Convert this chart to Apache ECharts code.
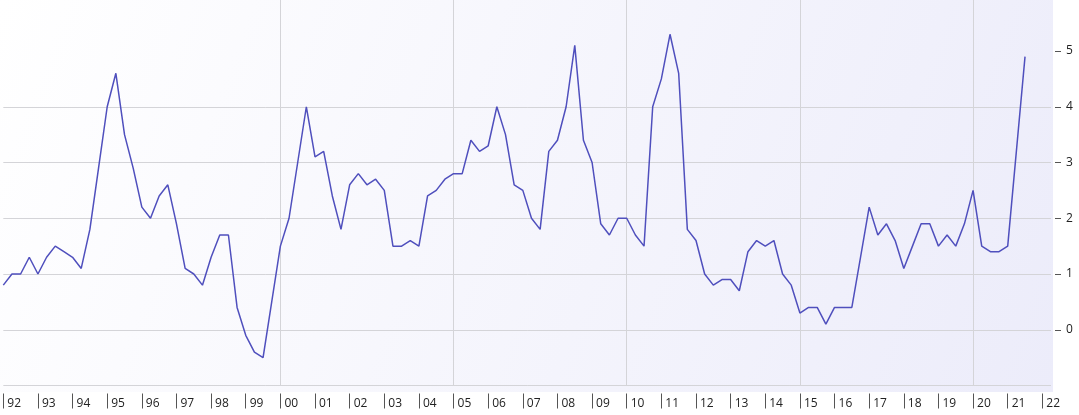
<!DOCTYPE html>
<html>
<head>
<meta charset="utf-8">
<title>Quarterly series</title>
<script src="https://cdn.jsdelivr.net/npm/echarts@6/dist/echarts.min.js"></script>
<style>
  html, body { margin: 0; padding: 0; background: #ffffff; }
  #chart { width: 1079px; height: 415px; }
</style>
</head>
<body>
<div id="chart"></div>
<script>
// quarterly values, 1992 Q1 .. 2021 Q3
var values = [
  0.8, 1.0, 1.0, 1.3,   // 92
  1.0, 1.3, 1.5, 1.4,   // 93
  1.3, 1.1, 1.8, 2.9,   // 94
  4.0, 4.6, 3.5, 2.9,   // 95
  2.2, 2.0, 2.4, 2.6,   // 96
  1.9, 1.1, 1.0, 0.8,   // 97
  1.3, 1.7, 1.7, 0.4,   // 98
  -0.1, -0.4, -0.5, 0.5, // 99
  1.5, 2.0, 3.0, 4.0,   // 00
  3.1, 3.2, 2.4, 1.8,   // 01
  2.6, 2.8, 2.6, 2.7,   // 02
  2.5, 1.5, 1.5, 1.6,   // 03
  1.5, 2.4, 2.5, 2.7,   // 04
  2.8, 2.8, 3.4, 3.2,   // 05
  3.3, 4.0, 3.5, 2.6,   // 06
  2.5, 2.0, 1.8, 3.2,   // 07
  3.4, 4.0, 5.1, 3.4,   // 08
  3.0, 1.9, 1.7, 2.0,   // 09
  2.0, 1.7, 1.5, 4.0,   // 10
  4.5, 5.3, 4.6, 1.8,   // 11
  1.6, 1.0, 0.8, 0.9,   // 12
  0.9, 0.7, 1.4, 1.6,   // 13
  1.5, 1.6, 1.0, 0.8,   // 14
  0.3, 0.4, 0.4, 0.1,   // 15
  0.4, 0.4, 0.4, 1.3,   // 16
  2.2, 1.7, 1.9, 1.6,   // 17
  1.1, 1.5, 1.9, 1.9,   // 18
  1.5, 1.7, 1.5, 1.9,   // 19
  2.5, 1.5, 1.4, 1.4,   // 20
  1.5, 3.2, 4.9         // 21
];

var firstYear = 1992;
var lastYear = 2022;   // axis runs on to 2022 Q2
var yLabels = [0, 1, 2, 3, 4, 5];
var yBottom = -1;      // lowest gridline, no label

// category per quarter, e.g. "1992Q1"
var quarters = [];
for (var y = firstYear; y <= lastYear; y++) {
  for (var q = 1; q <= 4; q++) {
    if (y == lastYear && q > 2) break;
    quarters.push(y + 'Q' + q);
  }
}

function isYearStart(i, v) {
  return v.slice(5) == '1';
}

var chart = echarts.init(document.getElementById('chart'), null, { renderer: 'canvas' });

var fontFamily = '"Open Sans", "Noto Sans", sans-serif';
var gridColor = '#d4d4d8';

chart.setOption({
  animation: false,
  graphic: [{
    type: 'rect',
    z: -10,
    silent: true,
    shape: { x: 0, y: 0, width: 1053, height: 392 },
    style: {
      fill: new echarts.graphic.LinearGradient(0, 0, 1, 1, [
        { offset: 0, color: '#ffffff' },
        { offset: 1, color: '#ececfa' }
      ])
    }
  }],
  grid: {
    left: 3.3,
    right: 28,
    top: 0,
    bottom: 29.5,
    containLabel: false
  },
  xAxis: {
    type: 'category',
    data: quarters,
    boundaryGap: false,
    offset: 8,
    axisLine: { show: false, onZero: false },
    axisTick: {
      show: true,
      length: 15,
      interval: isYearStart,
      lineStyle: { color: '#555555', width: 1 }
    },
    axisLabel: {
      interval: isYearStart,
      formatter: function (v) { return v.slice(2, 4); },
      align: 'left',
      padding: [0, 0, 0, 4],
      margin: 4,
      color: '#222222',
      fontSize: 12,
      fontFamily: fontFamily
    },
    splitLine: {
      show: true,
      interval: function (i, v) {
        var yr = +v.slice(0, 4);
        return isYearStart(i, v) && yr >= 2000 && yr % 5 == 0;
      },
      lineStyle: { color: gridColor, width: 1 }
    }
  },
  yAxis: {
    type: 'value',
    position: 'right',
    min: -1,
    max: 5.915,
    interval: 1,
    offset: 4,
    axisLine: { show: false },
    axisTick: {
      show: true,
      length: 6,
      customValues: yLabels,
      lineStyle: { color: '#555555' }
    },
    axisLabel: {
      margin: 11,
      customValues: yLabels,
      color: '#222222',
      fontSize: 12,
      fontFamily: fontFamily
    },
    splitLine: {
      show: true,
      showMaxLine: false,
      lineStyle: { color: gridColor, width: 1 }
    }
  },
  series: [{
    type: 'line',
    data: values,
    symbol: 'none',
    lineStyle: { color: '#4f4fbd', width: 1.5 },
    z: 5,
    markLine: {
      silent: true,
      symbol: 'none',
      label: { show: false },
      lineStyle: { color: gridColor, width: 1, type: 'solid' },
      z: 1,
      data: [{ yAxis: yBottom }]
    }
  }]
});
</script>
</body>
</html>
